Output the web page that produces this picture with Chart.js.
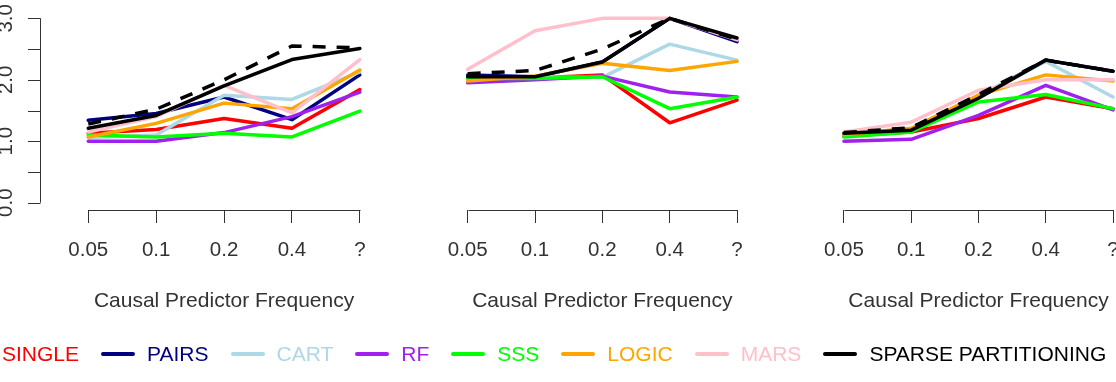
<!DOCTYPE html>
<html>
<head>
<meta charset="utf-8">
<script src="https://cdn.jsdelivr.net/npm/chart.js@4.4.1/dist/chart.umd.min.js"></script>
<style>
    body { margin: 0; width: 1116px; height: 382px; overflow: hidden; background: #fff; position: relative;
           font-family: "Liberation Sans", Arial, sans-serif; }
    canvas { position: absolute; top: 0; }
    #legend { position: absolute; left: -44px; top: 342px; display: flex; align-items: center;
              white-space: nowrap; font-size: 21px; line-height: 24px; }
    .item { display: flex; align-items: center; margin-right: 22px; }
    .swatch { width: 34px; height: 4px; margin-right: 12px; border-radius: 2px; }
</style>
</head>
<body>
<canvas id="c0" width="372" height="382" style="left:0px"></canvas>
<canvas id="c1" width="378" height="382" style="left:372px"></canvas>
<canvas id="c2" width="384" height="382" style="left:744px"></canvas>
<div id="legend"></div>

<script>
const CATEGORIES = ["0.05", "0.1", "0.2", "0.4", "?"];
const METHODS = ["SINGLE", "PAIRS", "CART", "RF", "SSS", "LOGIC", "MARS", "SPARSE PARTITIONING"];
const COLORS = ["#ff0000", "#000080", "#add8e6", "#a020f0", "#00ff00", "#ffa500", "#ffc0cb", "#000000"];
const Y_TICKS = [0, 0.5, 1, 1.5, 2, 2.5, 3];

// rows follow METHODS order
const LEFT_PANEL = [
    [1.13, 1.19, 1.37, 1.21, 1.84],
    [1.34, 1.45, 1.72, 1.35, 2.08],
    [1.06, 1.10, 1.75, 1.68, 2.13],
    [1.00, 1.00, 1.14, 1.40, 1.80],
    [1.10, 1.07, 1.13, 1.07, 1.49],
    [1.07, 1.29, 1.62, 1.53, 2.16],
    [1.15, 1.40, 1.91, 1.46, 2.33],
    [1.21, 1.42, 1.90, 2.33, 2.51]
];
const MIDDLE_PANEL = [
    [2.03, 2.03, 2.08, 1.30, 1.67],
    [2.08, 2.05, 2.29, 3.00, 2.62],
    [2.02, 2.04, 2.04, 2.58, 2.32],
    [1.95, 2.00, 2.06, 1.80, 1.72],
    [2.02, 2.02, 2.05, 1.53, 1.72],
    [1.98, 2.06, 2.27, 2.15, 2.30],
    [2.17, 2.80, 3.00, 3.00, 2.65],
    [2.05, 2.05, 2.29, 3.00, 2.68]
];
const RIGHT_PANEL = [
    [1.08, 1.15, 1.37, 1.72, 1.53],
    [1.12, 1.18, 1.72, 2.32, 2.14],
    [1.12, 1.20, 1.74, 2.30, 1.72],
    [1.00, 1.03, 1.42, 1.91, 1.51],
    [1.07, 1.15, 1.64, 1.76, 1.53],
    [1.11, 1.21, 1.75, 2.08, 1.98],
    [1.15, 1.31, 1.83, 2.00, 2.00],
    [1.13, 1.18, 1.70, 2.32, 2.14]
];
// black dashed reference line (not in legend)
const LEFT_DASHED = [1.28, 1.52, 2.00, 2.55, 2.52];
const MIDDLE_DASHED = [2.10, 2.15, 2.50, 3.00, 2.66];
const RIGHT_DASHED = [1.14, 1.22, 1.76, 2.32, 2.14];

const FONT = { family: '"Liberation Sans", Arial, sans-serif', size: 20.5 };
const TITLE_FONT = { family: '"Liberation Sans", Arial, sans-serif', size: 21 };
const INK = "#333";

// R style axes: x line only between first and last tick, y axis set off to the left
var rAxes = {
    id: 'rAxes',
    afterDraw: function (chart, args, opts) {
        var c = chart.ctx, xs = chart.scales.x, ys = chart.scales.y;
        var base = Math.round(chart.chartArea.bottom) + 0.5;
        c.save();
        c.strokeStyle = INK;
        c.lineWidth = 1;
        c.beginPath();
        c.moveTo(Math.round(xs.getPixelForValue(1)) + 0.5, base);
        c.lineTo(Math.round(xs.getPixelForValue(CATEGORIES.length)) + 0.5, base);
        c.stroke();

        if (opts.showY) {
            var ax = Math.round(chart.chartArea.left - 37) + 0.5;
            c.beginPath();
            c.moveTo(ax, ys.getPixelForValue(0));
            c.lineTo(ax, ys.getPixelForValue(3));
            Y_TICKS.forEach(function (v) {
                var py = Math.round(ys.getPixelForValue(v)) + 0.5;
                c.moveTo(ax - 12.5, py);
                c.lineTo(ax, py);
            });
            c.stroke();
            c.fillStyle = INK;
            c.font = FONT.size + 'px ' + FONT.family;
            c.textAlign = 'center';
            c.textBaseline = 'alphabetic';
            Y_TICKS.forEach(function (v) {
                if (v % 1 !== 0) return;
                c.save();
                c.translate(ax - 29, ys.getPixelForValue(v));
                c.rotate(-Math.PI / 2);
                c.fillText(v.toFixed(1), 0, 0);
                c.restore();
            });
        }
        c.restore();
    }
};

function makeDatasets(rows, dashed) {
    var sets = rows.map(function (row, i) {
        return {
            label: METHODS[i],
            data: row.map(function (v, j) { return { x: j + 1, y: v }; }),
            borderColor: COLORS[i],
            borderWidth: 3.5,
            borderCapStyle: 'round',
            borderJoinStyle: 'round',
            pointRadius: 0,
            tension: 0,
            order: rows.length + 1 - i
        };
    });
    sets.push({
        label: 'dashed',
        data: dashed.map(function (v, j) { return { x: j + 1, y: v }; }),
        borderColor: '#000',
        borderWidth: 3.5,
        borderDash: [13, 11],
        pointRadius: 0,
        tension: 0,
        order: 0
    });
    return sets;
}

function drawPanel(id, rows, dashed, padLeft, padRight, showY) {
    var ctx = document.getElementById(id).getContext('2d');
    return new Chart(ctx, {
        type: 'line',
        data: { datasets: makeDatasets(rows, dashed) },
        options: {
            responsive: false,
            animation: false,
            layout: { padding: { left: padLeft, right: padRight, top: 11, bottom: 0 } },
            plugins: {
                legend: { display: false },
                tooltip: { enabled: false },
                rAxes: { showY: showY }
            },
            scales: {
                x: {
                    type: 'linear',
                    min: 0.84,
                    max: 5.16,
                    afterBuildTicks: function (s) {
                        s.ticks = CATEGORIES.map(function (l, i) { return { value: i + 1 }; });
                    },
                    afterFit: function (s) {
                        s.height = 172;
                        s.paddingLeft = 0;
                        s.paddingRight = 0;
                    },
                    grid: { display: true, drawOnChartArea: false, drawTicks: true, tickLength: 13, color: INK },
                    border: { display: false },
                    ticks: {
                        padding: 15,
                        color: INK,
                        font: FONT,
                        maxRotation: 0,
                        autoSkip: false,
                        callback: function (v) { return CATEGORIES[v - 1]; }
                    },
                    title: {
                        display: true,
                        text: 'Causal Predictor Frequency',
                        color: INK,
                        font: TITLE_FONT,
                        padding: { top: 0, bottom: 68 }
                    }
                },
                y: { min: -0.12, max: 3.12, display: false }
            }
        },
        plugins: [rAxes]
    });
}

drawPanel('c0', LEFT_PANEL, LEFT_DASHED, 77.4, 1.3, true);
drawPanel('c1', MIDDLE_PANEL, MIDDLE_DASHED, 84.9, 2.2, false);
drawPanel('c2', RIGHT_PANEL, RIGHT_DASHED, 89.2, 4.2, false);

var legend = document.getElementById('legend');
METHODS.forEach(function (name, i) {
    var item = document.createElement('div');
    item.className = 'item';
    item.innerHTML = '<span class="swatch" style="background:' + COLORS[i] + '"></span>' +
        '<span style="color:' + COLORS[i] + '">' + name + '</span>';
    legend.appendChild(item);
});
</script>
</body>
</html>
